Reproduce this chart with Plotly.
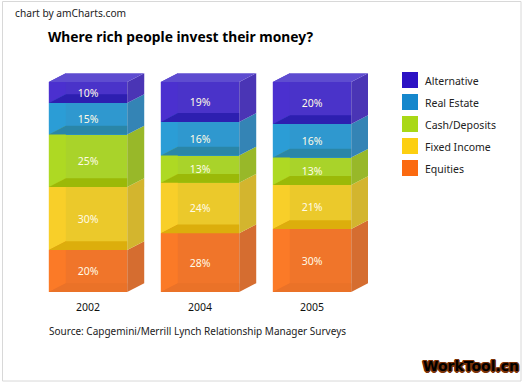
import plotly.graph_objects as go

years = ["2002", "2004", "2005"]
series_names = ["Equities", "Fixed Income", "Cash/Deposits", "Real Estate", "Alternative"]
equities = [20, 28, 30]
fixed_income = [30, 24, 21]
cash_deposits = [25, 13, 13]
real_estate = [15, 16, 16]
alternative = [10, 19, 20]
series_values = [equities, fixed_income, cash_deposits, real_estate, alternative]

legend_colors = ["#fb6a10", "#fccf10", "#a9d816", "#1587cc", "#2b12c4"]
front_colors = ["#f0752a", "#ebc92b", "#a9d32a", "#2f98cf", "#4a33c9"]
wall_colors = ["#fb7a27", "#f8cf29", "#aed923", "#2b9dd6", "#4b30cf"]
side_colors = ["#d56d30", "#d3b52e", "#98b829", "#3484b5", "#4a35b5"]
floor_colors = ["#ea7228", "#dcae0c", "#9bb908", "#2a86a8", "#2d1fb0"]
top_color = "#5e4cd0"

BAR_W = 0.7
DX = 0.152
DY = 4.2
LABEL_SHIFT = 0.7
L, T, W, H = 32, 73, 336, 219


def px(x):
    return (x - L) / W


def py(y):
    return (T + H - y) / H


def polygon(xs, ys, color):
    return go.Scatter(x=xs + xs[:1], y=ys + ys[:1], mode="lines", fill="toself",
                      fillcolor=color, line=dict(width=0), hoverinfo="skip",
                      showlegend=False)


fig = go.Figure()
for i, name in enumerate(series_names):
    fig.add_trace(go.Bar(x=[0, 1, 2], y=series_values[i], width=BAR_W,
                         marker=dict(color=front_colors[i], line=dict(width=0)),
                         name=name, showlegend=False))

label_x, label_y, label_t = [], [], []
for b in range(len(years)):
    left = b - BAR_W / 2
    right = b + BAR_W / 2
    base = 0
    for i in range(len(series_names)):
        val = series_values[i][b]
        top = base + val
        fig.add_trace(polygon([left, left + DX, left + DX, left],
                              [base, base + DY, top + DY, top], wall_colors[i]))
        fig.add_trace(polygon([left, left + DX, right, right],
                              [base, base + DY, base + DY, base], floor_colors[i]))
        fig.add_trace(polygon([right, right + DX, right + DX, right],
                              [base, base + DY, top + DY, top], side_colors[i]))
        label_x.append(b)
        label_y.append(base + val / 2 - LABEL_SHIFT)
        label_t.append(f"{val}%")
        base = top
    fig.add_trace(polygon([left, left + DX, right + DX, right],
                          [base, base + DY, base + DY, base], top_color))

fig.add_trace(go.Scatter(x=label_x, y=label_y, text=label_t, mode="text", showlegend=False,
                         textposition="middle center", hoverinfo="skip",
                         textfont=dict(family="Noto Sans", size=10.5, color="#fffbe6")))

outline = ",".join(f"{a}px {c}px 0 #7a3208" for a, c in
                   [(-1.5, 0), (1.5, 0), (0, -1.5), (0, 1.5), (-1, -1), (1, 1), (-1, 1), (1, -1)])

shapes = [dict(type="rect", xref="paper", yref="paper", x0=px(2.5), x1=px(521),
               y0=py(381), y1=py(1.5), line=dict(color="#d8d8d8", width=1),
               fillcolor="rgba(0,0,0,0)", layer="below")]
annotations = [
    dict(text="chart by amCharts.com", xref="paper", yref="paper", x=px(13), y=py(13),
         xanchor="left", yanchor="middle", showarrow=False,
         font=dict(size=10.2, color="#222222")),
    dict(text="Source: Capgemini/Merrill Lynch Relationship Manager Surveys", xref="paper",
         yref="paper", x=px(47), y=py(331), xanchor="left", yanchor="middle",
         showarrow=False, font=dict(size=10, color="#222222")),
    dict(text="<b>WorkTool.cn</b>", xref="paper", yref="paper", x=px(521), y=py(366),
         xanchor="right", yanchor="middle", showarrow=False,
         font=dict(family="DejaVu Sans", size=14, color="#000000", shadow=outline)),
]
# Legend, top entry first
for row, i in enumerate(reversed(range(len(series_names)))):
    top_px = 72 + 22 * row
    shapes.append(dict(type="rect", xref="paper", yref="paper", x0=px(402), x1=px(418),
                       y0=py(top_px + 16), y1=py(top_px), fillcolor=legend_colors[i],
                       line=dict(width=0)))
    annotations.append(dict(text=series_names[i], xref="paper", yref="paper", x=px(422.5),
                            y=py(top_px + 8.5), xanchor="left", yanchor="middle",
                            showarrow=False, font=dict(size=10.5, color="#222222")))

fig.update_layout(
    width=529, height=385, barmode="stack", bargap=0.3, showlegend=False,
    margin=dict(l=L, r=529 - L - W, t=T, b=385 - T - H),
    paper_bgcolor="white", plot_bgcolor="white",
    font=dict(family="Noto Sans", size=10.5, color="#222222"),
    title=dict(text="Where rich people invest their money?", x=48 / 529, xanchor="left",
               y=1 - 37.5 / 385, yanchor="middle", xref="container", yref="container",
               font=dict(family="Noto Sans", size=13.8, color="#000000", weight="bold")),
    xaxis=dict(range=[-0.5, 2.5], tickvals=[0, 1, 2], ticktext=years, showgrid=False,
               zeroline=False, showline=False, ticks="outside", ticklen=5,
               tickcolor="rgba(0,0,0,0)", tickfont=dict(size=10.5, color="#111111")),
    yaxis=dict(range=[0, 104.3], visible=False),
    shapes=shapes,
    annotations=annotations,
)

fig.write_html("out.html", post_script="document.body.style.margin='0';",
               config={"displayModeBar": False})
